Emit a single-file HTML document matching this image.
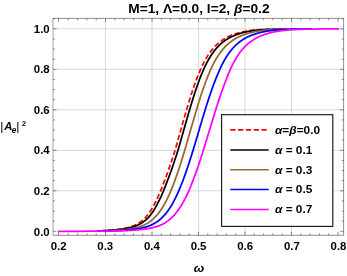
<!DOCTYPE html>
<html><head><meta charset="utf-8"><title>plot</title>
<style>html,body{margin:0;padding:0;background:#fff;}body{width:347px;height:276px;position:relative;overflow:hidden;font-family:"Liberation Sans",sans-serif;}</style>
</head><body>
<svg width="347" height="276" viewBox="0 0 347 276" style="position:absolute;left:0;top:0;will-change:transform">
<rect x="0" y="0" width="347" height="276" fill="#fff"/>
<path d="M105.50 18.4V235.3M152.00 18.4V235.3M198.50 18.4V235.3M245.00 18.4V235.3M291.50 18.4V235.3M53.05 190.81H343.6M53.05 150.32H343.6M53.05 109.83H343.6M53.05 69.34H343.6M53.05 28.85H343.6" stroke="#cccccc" stroke-width="0.75" fill="none"/>
<path d="M104.50 230.51 L105.00 230.48 L105.50 230.46 L106.00 230.43 L106.50 230.40 L107.00 230.37 L107.50 230.34 L108.00 230.31 L108.50 230.27 L109.00 230.24 L109.50 230.20 L110.00 230.17 L110.50 230.13 L111.00 230.09 L111.50 230.05 L112.00 230.01 L112.50 229.96 L113.00 229.92 L113.50 229.87 L114.00 229.82 L114.50 229.77 L115.00 229.72 L115.50 229.67 L116.00 229.61 L116.50 229.56 L117.00 229.50 L117.50 229.44 L118.00 229.38 L118.50 229.31 L119.00 229.24 L119.50 229.17 L120.00 229.10 L120.50 229.03 L121.00 228.95 L121.50 228.87 L122.00 228.79 L122.50 228.70 L123.00 228.61 L123.50 228.52 L124.00 228.43 L124.50 228.33 L125.00 228.23 L125.50 228.12 L126.00 228.01 L126.50 227.90 L127.00 227.78 L127.50 227.66 L128.00 227.53 L128.50 227.40 L129.00 227.26 L129.50 227.12 L130.00 226.97 L130.50 226.81 L131.00 226.65 L131.50 226.48 L132.00 226.30 L132.50 226.12 L133.00 225.93 L133.50 225.73 L134.00 225.52 L134.50 225.31 L135.00 225.08 L135.50 224.85 L136.00 224.60 L136.50 224.35 L137.00 224.09 L137.50 223.81 L138.00 223.52 L138.50 223.22 L139.00 222.91 L139.50 222.58 L140.00 222.24 L140.50 221.89 L141.00 221.53 L141.50 221.15 L142.00 220.76 L142.50 220.35 L143.00 219.93 L143.50 219.50 L144.00 219.05 L144.50 218.58 L145.00 218.10 L145.50 217.56 L146.00 217.00 L146.50 216.42 L147.00 215.81 L147.50 215.19 L148.00 214.54 L148.50 213.87 L149.00 213.18 L149.50 212.46 L150.00 211.72 L150.50 210.95 L151.00 210.15 L151.50 209.33 L152.00 208.48 L152.50 207.61 L153.00 206.71 L153.50 205.77 L154.00 204.81 L154.50 203.87 L155.00 202.94 L155.50 201.98 L156.00 201.00 L156.50 199.99 L157.00 198.96 L157.50 197.91 L158.00 196.83 L158.50 195.73 L159.00 194.61 L159.50 193.46 L160.00 192.28 L160.50 191.09 L161.00 189.87 L161.50 188.62 L162.00 187.36 L162.50 186.07 L163.00 184.75 L163.50 183.42 L164.00 182.06 L164.50 180.75 L165.00 179.46 L165.50 178.14 L166.00 176.82 L166.50 175.47 L167.00 174.11 L167.50 172.73 L168.00 171.34 L168.50 169.93 L169.00 168.51 L169.50 167.08 L170.00 165.63 L170.50 164.16 L171.00 162.68 L171.50 161.19 L172.00 159.68 L172.50 158.15 L173.00 156.61 L173.50 155.06 L174.00 153.50 L174.50 151.92 L175.00 150.34 L175.50 148.62 L176.00 146.89 L176.50 145.14 L177.00 143.39 L177.50 141.64 L178.00 139.87 L178.50 138.10 L179.00 136.33 L179.50 134.56 L180.00 132.78 L180.50 131.00 L181.00 129.22 L181.50 127.44 L182.00 125.67 L182.50 123.90 L183.00 122.13 L183.50 120.37 L184.00 118.62 L184.50 116.87 L185.00 115.13 L185.50 113.41 L186.00 111.69 L186.50 109.98 L187.00 108.29 L187.50 106.60 L188.00 104.93 L188.50 103.28 L189.00 101.64 L189.50 100.02 L190.00 98.41 L190.50 96.82 L191.00 95.25 L191.50 93.70 L192.00 92.16 L192.50 90.65 L193.00 89.16 L193.50 87.69 L194.00 86.24 L194.50 84.81 L195.00 83.40 L195.50 82.02 L196.00 80.66 L196.50 79.32 L197.00 78.01 L197.50 76.71 L198.00 75.45 L198.50 74.20 L199.00 72.98 L199.50 71.79 L200.00 70.62 L200.50 69.47 L201.00 68.35 L201.50 67.26 L202.00 66.19 L202.50 65.15 L203.00 64.14 L203.50 63.15 L204.00 62.19 L204.50 61.25 L205.00 60.33 L205.50 59.44 L206.00 58.57 L206.50 57.73 L207.00 56.90 L207.50 56.10 L208.00 55.32 L208.50 54.57 L209.00 53.83 L209.50 53.11 L210.00 52.42 L210.50 51.74 L211.00 51.08 L211.50 50.44 L212.00 49.81 L212.50 49.21 L213.00 48.61 L213.50 48.04 L214.00 47.48 L214.50 46.94 L215.00 46.41 L215.50 45.89 L216.00 45.40 L216.50 44.91 L217.00 44.44 L217.50 43.98 L218.00 43.54 L218.50 43.10 L219.00 42.68 L219.50 42.28 L220.00 41.88 L220.50 41.50 L221.00 41.12 L221.50 40.76 L222.00 40.40 L222.50 40.06 L223.00 39.73 L223.50 39.40 L224.00 39.09 L224.50 38.78 L225.00 38.48 L225.50 38.19 L226.00 37.91 L226.50 37.64 L227.00 37.37 L227.50 37.12 L228.00 36.87 L228.50 36.62 L229.00 36.39 L229.50 36.16 L230.00 35.94 L230.50 35.72 L231.00 35.51 L231.50 35.31 L232.00 35.11 L232.50 34.92 L233.00 34.73 L233.50 34.55 L234.00 34.37 L234.50 34.20 L235.00 34.03 L235.50 33.86 L236.00 33.70 L236.50 33.54 L237.00 33.39 L237.50 33.24 L238.00 33.09 L238.50 32.95 L239.00 32.81 L239.50 32.68 L240.00 32.55 L240.50 32.42 L241.00 32.30 L241.50 32.18 L242.00 32.06 L242.50 31.95 L243.00 31.84 L243.50 31.73 L244.00 31.63 L244.50 31.53 L245.00 31.43 L245.50 31.34 L246.00 31.25 L246.50 31.16 L247.00 31.07 L247.50 30.99 L248.00 30.91 L248.50 30.84 L249.00 30.76 L249.50 30.69 L250.00 30.62 L250.50 30.56 L251.00 30.49 L251.50 30.43 L252.00 30.37 L252.50 30.31 L253.00 30.26 L253.50 30.21 L254.00 30.15 L254.50 30.10 L255.00 30.06 L255.50 30.01 L256.00 29.97 L256.50 29.92 L257.00 29.88 L257.50 29.84 L258.00 29.80 L258.50 29.77 L259.00 29.73 L259.50 29.70 L260.00 29.66 L260.50 29.63 L261.00 29.60 L261.50 29.57 L262.00 29.54 L262.50 29.52 L263.00 29.49 L263.50 29.47 L264.00 29.44 L264.50 29.42 L265.00 29.40 L265.50 29.37 L266.00 29.35 L266.50 29.33 L267.00 29.32 L267.50 29.30 L268.00 29.28 L268.50 29.26 L269.00 29.25 L269.50 29.23" stroke="#ff0000" stroke-width="1.75" fill="none" stroke-linejoin="round" stroke-dasharray="5.2 2.6" stroke-dashoffset="3.9"/>
<path d="M97.00 230.89 L97.50 230.88 L98.00 230.86 L98.50 230.85 L99.00 230.83 L99.50 230.82 L100.00 230.80 L100.50 230.79 L101.00 230.77 L101.50 230.75 L102.00 230.73 L102.50 230.71 L103.00 230.69 L103.50 230.68 L104.00 230.65 L104.50 230.63 L105.00 230.61 L105.50 230.59 L106.00 230.57 L106.50 230.54 L107.00 230.52 L107.50 230.49 L108.00 230.46 L108.50 230.44 L109.00 230.41 L109.50 230.38 L110.00 230.35 L110.50 230.32 L111.00 230.28 L111.50 230.25 L112.00 230.21 L112.50 230.18 L113.00 230.14 L113.50 230.10 L114.00 230.06 L114.50 230.02 L115.00 229.98 L115.50 229.93 L116.00 229.89 L116.50 229.84 L117.00 229.79 L117.50 229.74 L118.00 229.69 L118.50 229.63 L119.00 229.58 L119.50 229.52 L120.00 229.46 L120.50 229.40 L121.00 229.34 L121.50 229.27 L122.00 229.20 L122.50 229.13 L123.00 229.06 L123.50 228.98 L124.00 228.90 L124.50 228.82 L125.00 228.74 L125.50 228.65 L126.00 228.56 L126.50 228.47 L127.00 228.37 L127.50 228.27 L128.00 228.17 L128.50 228.06 L129.00 227.95 L129.50 227.84 L130.00 227.72 L130.50 227.59 L131.00 227.46 L131.50 227.33 L132.00 227.19 L132.50 227.04 L133.00 226.89 L133.50 226.73 L134.00 226.57 L134.50 226.39 L135.00 226.22 L135.50 226.03 L136.00 225.84 L136.50 225.63 L137.00 225.42 L137.50 225.21 L138.00 224.98 L138.50 224.74 L139.00 224.49 L139.50 224.24 L140.00 223.97 L140.50 223.69 L141.00 223.40 L141.50 223.09 L142.00 222.78 L142.50 222.45 L143.00 222.11 L143.50 221.75 L144.00 221.38 L144.50 221.00 L145.00 220.61 L145.50 220.20 L146.00 219.78 L146.50 219.34 L147.00 218.88 L147.50 218.42 L148.00 217.92 L148.50 217.37 L149.00 216.81 L149.50 216.22 L150.00 215.61 L150.50 214.98 L151.00 214.33 L151.50 213.66 L152.00 212.96 L152.50 212.24 L153.00 211.49 L153.50 210.72 L154.00 209.92 L154.50 209.10 L155.00 208.25 L155.50 207.37 L156.00 206.46 L156.50 205.53 L157.00 204.57 L157.50 203.64 L158.00 202.71 L158.50 201.75 L159.00 200.77 L159.50 199.76 L160.00 198.73 L160.50 197.68 L161.00 196.60 L161.50 195.50 L162.00 194.38 L162.50 193.23 L163.00 192.06 L163.50 190.86 L164.00 189.64 L164.50 188.40 L165.00 187.14 L165.50 185.85 L166.00 184.54 L166.50 183.21 L167.00 181.86 L167.50 180.56 L168.00 179.27 L168.50 177.96 L169.00 176.64 L169.50 175.30 L170.00 173.94 L170.50 172.57 L171.00 171.18 L171.50 169.78 L172.00 168.36 L172.50 166.93 L173.00 165.49 L173.50 164.03 L174.00 162.55 L174.50 161.06 L175.00 159.56 L175.50 158.04 L176.00 156.51 L176.50 154.96 L177.00 153.41 L177.50 151.84 L178.00 150.26 L178.50 148.54 L179.00 146.82 L179.50 145.08 L180.00 143.34 L180.50 141.59 L181.00 139.84 L181.50 138.08 L182.00 136.31 L182.50 134.55 L183.00 132.78 L183.50 131.01 L184.00 129.24 L184.50 127.47 L185.00 125.71 L185.50 123.94 L186.00 122.19 L186.50 120.43 L187.00 118.69 L187.50 116.95 L188.00 115.22 L188.50 113.50 L189.00 111.79 L189.50 110.09 L190.00 108.40 L190.50 106.73 L191.00 105.07 L191.50 103.42 L192.00 101.78 L192.50 100.17 L193.00 98.57 L193.50 96.98 L194.00 95.42 L194.50 93.87 L195.00 92.35 L195.50 90.84 L196.00 89.35 L196.50 87.88 L197.00 86.44 L197.50 85.01 L198.00 83.61 L198.50 82.23 L199.00 80.87 L199.50 79.54 L200.00 78.23 L200.50 76.94 L201.00 75.67 L201.50 74.43 L202.00 73.21 L202.50 72.02 L203.00 70.85 L203.50 69.70 L204.00 68.58 L204.50 67.49 L205.00 66.42 L205.50 65.38 L206.00 64.37 L206.50 63.38 L207.00 62.41 L207.50 61.47 L208.00 60.56 L208.50 59.66 L209.00 58.79 L209.50 57.95 L210.00 57.12 L210.50 56.32 L211.00 55.54 L211.50 54.78 L212.00 54.04 L212.50 53.32 L213.00 52.62 L213.50 51.94 L214.00 51.28 L214.50 50.64 L215.00 50.01 L215.50 49.40 L216.00 48.81 L216.50 48.23 L217.00 47.67 L217.50 47.12 L218.00 46.59 L218.50 46.07 L219.00 45.57 L219.50 45.09 L220.00 44.61 L220.50 44.15 L221.00 43.70 L221.50 43.27 L222.00 42.85 L222.50 42.44 L223.00 42.04 L223.50 41.65 L224.00 41.27 L224.50 40.91 L225.00 40.55 L225.50 40.21 L226.00 39.87 L226.50 39.54 L227.00 39.22 L227.50 38.91 L228.00 38.61 L228.50 38.32 L229.00 38.04 L229.50 37.76 L230.00 37.50 L230.50 37.24 L231.00 36.98 L231.50 36.74 L232.00 36.50 L232.50 36.27 L233.00 36.05 L233.50 35.83 L234.00 35.62 L234.50 35.41 L235.00 35.21 L235.50 35.02 L236.00 34.83 L236.50 34.65 L237.00 34.47 L237.50 34.29 L238.00 34.12 L238.50 33.95 L239.00 33.79 L239.50 33.63 L240.00 33.47 L240.50 33.32 L241.00 33.17 L241.50 33.03 L242.00 32.89 L242.50 32.76 L243.00 32.62 L243.50 32.50 L244.00 32.37 L244.50 32.25 L245.00 32.13 L245.50 32.02 L246.00 31.91 L246.50 31.80 L247.00 31.69 L247.50 31.59 L248.00 31.49 L248.50 31.40 L249.00 31.31 L249.50 31.22 L250.00 31.13 L250.50 31.05 L251.00 30.97 L251.50 30.89 L252.00 30.81 L252.50 30.74 L253.00 30.67 L253.50 30.60 L254.00 30.54 L254.50 30.48 L255.00 30.41 L255.50 30.36 L256.00 30.30 L256.50 30.24 L257.00 30.19 L257.50 30.14 L258.00 30.09 L258.50 30.05 L259.00 30.00 L259.50 29.96 L260.00 29.91 L260.50 29.87 L261.00 29.83 L261.50 29.80 L262.00 29.76 L262.50 29.72 L263.00 29.69 L263.50 29.66 L264.00 29.63 L264.50 29.60 L265.00 29.57 L265.50 29.54 L266.00 29.51 L266.50 29.49 L267.00 29.46 L267.50 29.44 L268.00 29.41 L268.50 29.39 L269.00 29.37 L269.50 29.35 L270.00 29.33 L270.50 29.31 L271.00 29.30 L271.50 29.28 L272.00 29.26 L272.50 29.25 L273.00 29.23 L273.50 29.21 L274.00 29.20 L274.50 29.19 L275.00 29.17 L275.50 29.16 L276.00 29.15 L276.50 29.14 L277.00 29.13 L277.50 29.12 L278.00 29.11 L278.50 29.10 L279.00 29.09 L279.50 29.08 L280.00 29.07 L280.50 29.06 L281.00 29.05 L281.50 29.04 L282.00 29.04 L282.50 29.03 L283.00 29.02 L283.50 29.01 L284.00 29.01 L284.50 29.00 L285.00 29.00 L285.50 28.99 L286.00 28.99" stroke="#000000" stroke-width="1.75" fill="none" stroke-linejoin="round"/>
<path d="M102.00 230.90 L102.50 230.89 L103.00 230.88 L103.50 230.86 L104.00 230.85 L104.50 230.83 L105.00 230.82 L105.50 230.80 L106.00 230.79 L106.50 230.77 L107.00 230.75 L107.50 230.74 L108.00 230.72 L108.50 230.70 L109.00 230.68 L109.50 230.66 L110.00 230.64 L110.50 230.62 L111.00 230.60 L111.50 230.57 L112.00 230.55 L112.50 230.52 L113.00 230.50 L113.50 230.47 L114.00 230.45 L114.50 230.42 L115.00 230.39 L115.50 230.36 L116.00 230.33 L116.50 230.30 L117.00 230.26 L117.50 230.23 L118.00 230.20 L118.50 230.16 L119.00 230.12 L119.50 230.08 L120.00 230.04 L120.50 230.00 L121.00 229.96 L121.50 229.91 L122.00 229.87 L122.50 229.82 L123.00 229.77 L123.50 229.72 L124.00 229.67 L124.50 229.62 L125.00 229.56 L125.50 229.50 L126.00 229.44 L126.50 229.38 L127.00 229.32 L127.50 229.25 L128.00 229.19 L128.50 229.12 L129.00 229.04 L129.50 228.97 L130.00 228.89 L130.50 228.81 L131.00 228.73 L131.50 228.64 L132.00 228.55 L132.50 228.46 L133.00 228.37 L133.50 228.27 L134.00 228.17 L134.50 228.06 L135.00 227.95 L135.50 227.84 L136.00 227.72 L136.50 227.60 L137.00 227.47 L137.50 227.34 L138.00 227.20 L138.50 227.05 L139.00 226.91 L139.50 226.75 L140.00 226.59 L140.50 226.42 L141.00 226.25 L141.50 226.06 L142.00 225.87 L142.50 225.68 L143.00 225.47 L143.50 225.26 L144.00 225.04 L144.50 224.81 L145.00 224.57 L145.50 224.31 L146.00 224.05 L146.50 223.78 L147.00 223.50 L147.50 223.20 L148.00 222.90 L148.50 222.58 L149.00 222.24 L149.50 221.90 L150.00 221.54 L150.50 221.17 L151.00 220.79 L151.50 220.39 L152.00 219.98 L152.50 219.56 L153.00 219.12 L153.50 218.67 L154.00 218.20 L154.50 217.71 L155.00 217.21 L155.50 216.70 L156.00 216.16 L156.50 215.61 L157.00 215.04 L157.50 214.45 L158.00 213.85 L158.50 213.22 L159.00 212.58 L159.50 211.91 L160.00 211.22 L160.50 210.52 L161.00 209.79 L161.50 209.04 L162.00 208.27 L162.50 207.47 L163.00 206.66 L163.50 205.81 L164.00 204.95 L164.50 204.06 L165.00 203.15 L165.50 202.22 L166.00 201.26 L166.50 200.28 L167.00 199.28 L167.50 198.25 L168.00 197.21 L168.50 196.14 L169.00 195.04 L169.50 193.92 L170.00 192.78 L170.50 191.62 L171.00 190.43 L171.50 189.23 L172.00 188.00 L172.50 186.74 L173.00 185.47 L173.50 184.17 L174.00 182.85 L174.50 181.52 L175.00 180.16 L175.50 178.78 L176.00 177.38 L176.50 175.96 L177.00 174.53 L177.50 173.07 L178.00 171.60 L178.50 170.12 L179.00 168.61 L179.50 167.10 L180.00 165.56 L180.50 164.01 L181.00 162.44 L181.50 160.85 L182.00 159.25 L182.50 157.63 L183.00 155.99 L183.50 154.35 L184.00 152.69 L184.50 151.01 L185.00 149.33 L185.50 147.63 L186.00 145.93 L186.50 144.22 L187.00 142.50 L187.50 140.77 L188.00 139.04 L188.50 137.31 L189.00 135.57 L189.50 133.82 L190.00 132.08 L190.50 130.34 L191.00 128.59 L191.50 126.85 L192.00 125.11 L192.50 123.38 L193.00 121.65 L193.50 119.92 L194.00 118.21 L194.50 116.50 L195.00 114.79 L195.50 113.10 L196.00 111.42 L196.50 109.75 L197.00 108.09 L197.50 106.44 L198.00 104.80 L198.50 103.18 L199.00 101.57 L199.50 99.98 L200.00 98.41 L200.50 96.85 L201.00 95.31 L201.50 93.79 L202.00 92.28 L202.50 90.80 L203.00 89.33 L203.50 87.89 L204.00 86.46 L204.50 85.06 L205.00 83.68 L205.50 82.32 L206.00 80.98 L206.50 79.66 L207.00 78.36 L207.50 77.09 L208.00 75.84 L208.50 74.62 L209.00 73.41 L209.50 72.23 L210.00 71.07 L210.50 69.94 L211.00 68.83 L211.50 67.75 L212.00 66.69 L212.50 65.66 L213.00 64.65 L213.50 63.67 L214.00 62.71 L214.50 61.78 L215.00 60.87 L215.50 59.98 L216.00 59.11 L216.50 58.27 L217.00 57.45 L217.50 56.65 L218.00 55.87 L218.50 55.11 L219.00 54.38 L219.50 53.66 L220.00 52.96 L220.50 52.28 L221.00 51.62 L221.50 50.98 L222.00 50.35 L222.50 49.74 L223.00 49.15 L223.50 48.57 L224.00 48.01 L224.50 47.46 L225.00 46.93 L225.50 46.41 L226.00 45.90 L226.50 45.41 L227.00 44.94 L227.50 44.48 L228.00 44.03 L228.50 43.59 L229.00 43.16 L229.50 42.75 L230.00 42.35 L230.50 41.96 L231.00 41.58 L231.50 41.21 L232.00 40.85 L232.50 40.50 L233.00 40.16 L233.50 39.83 L234.00 39.51 L234.50 39.20 L235.00 38.89 L235.50 38.60 L236.00 38.31 L236.50 38.03 L237.00 37.76 L237.50 37.50 L238.00 37.24 L238.50 36.99 L239.00 36.75 L239.50 36.52 L240.00 36.29 L240.50 36.07 L241.00 35.85 L241.50 35.64 L242.00 35.44 L242.50 35.24 L243.00 35.05 L243.50 34.86 L244.00 34.68 L244.50 34.50 L245.00 34.33 L245.50 34.16 L246.00 33.99 L246.50 33.83 L247.00 33.67 L247.50 33.52 L248.00 33.37 L248.50 33.22 L249.00 33.08 L249.50 32.94 L250.00 32.81 L250.50 32.67 L251.00 32.55 L251.50 32.42 L252.00 32.30 L252.50 32.18 L253.00 32.07 L253.50 31.96 L254.00 31.85 L254.50 31.75 L255.00 31.64 L255.50 31.55 L256.00 31.45 L256.50 31.36 L257.00 31.27 L257.50 31.18 L258.00 31.10 L258.50 31.02 L259.00 30.94 L259.50 30.86 L260.00 30.79 L260.50 30.72 L261.00 30.65 L261.50 30.58 L262.00 30.52 L262.50 30.46 L263.00 30.40 L263.50 30.34 L264.00 30.29 L264.50 30.23 L265.00 30.18 L265.50 30.13 L266.00 30.08 L266.50 30.04 L267.00 29.99 L267.50 29.95 L268.00 29.91 L268.50 29.87 L269.00 29.83 L269.50 29.79 L270.00 29.76 L270.50 29.72 L271.00 29.69 L271.50 29.66 L272.00 29.63 L272.50 29.60 L273.00 29.57 L273.50 29.54 L274.00 29.51 L274.50 29.49 L275.00 29.46 L275.50 29.44 L276.00 29.42 L276.50 29.40 L277.00 29.38 L277.50 29.36 L278.00 29.34 L278.50 29.32 L279.00 29.30 L279.50 29.28 L280.00 29.27 L280.50 29.25 L281.00 29.23 L281.50 29.22 L282.00 29.21 L282.50 29.19 L283.00 29.18 L283.50 29.17 L284.00 29.15 L284.50 29.14 L285.00 29.13 L285.50 29.12 L286.00 29.11 L286.50 29.10 L287.00 29.09 L287.50 29.08 L288.00 29.07 L288.50 29.06 L289.00 29.06 L289.50 29.05 L290.00 29.04 L290.50 29.03 L291.00 29.03 L291.50 29.02 L292.00 29.01 L292.50 29.01 L293.00 29.00 L293.50 28.99 L294.00 28.99 L294.50 28.98 L295.00 28.98 L295.50 28.97 L296.00 28.97 L296.50 28.96 L297.00 28.96 L297.50 28.96 L298.00 28.95 L298.50 28.95 L299.00 28.94" stroke="#996633" stroke-width="1.75" fill="none" stroke-linejoin="round"/>
<path d="M103.50 231.00 L104.00 230.99 L104.50 230.98 L105.00 230.97 L105.50 230.96 L106.00 230.95 L106.50 230.94 L107.00 230.92 L107.50 230.91 L108.00 230.90 L108.50 230.89 L109.00 230.87 L109.50 230.86 L110.00 230.85 L110.50 230.83 L111.00 230.82 L111.50 230.80 L112.00 230.79 L112.50 230.77 L113.00 230.76 L113.50 230.74 L114.00 230.72 L114.50 230.70 L115.00 230.68 L115.50 230.66 L116.00 230.64 L116.50 230.62 L117.00 230.60 L117.50 230.58 L118.00 230.56 L118.50 230.54 L119.00 230.51 L119.50 230.49 L120.00 230.46 L120.50 230.43 L121.00 230.41 L121.50 230.38 L122.00 230.35 L122.50 230.32 L123.00 230.29 L123.50 230.26 L124.00 230.22 L124.50 230.19 L125.00 230.15 L125.50 230.12 L126.00 230.08 L126.50 230.04 L127.00 230.00 L127.50 229.96 L128.00 229.91 L128.50 229.87 L129.00 229.82 L129.50 229.78 L130.00 229.73 L130.50 229.68 L131.00 229.63 L131.50 229.57 L132.00 229.52 L132.50 229.46 L133.00 229.40 L133.50 229.34 L134.00 229.27 L134.50 229.21 L135.00 229.14 L135.50 229.07 L136.00 229.00 L136.50 228.93 L137.00 228.85 L137.50 228.77 L138.00 228.69 L138.50 228.60 L139.00 228.52 L139.50 228.43 L140.00 228.33 L140.50 228.24 L141.00 228.14 L141.50 228.03 L142.00 227.93 L142.50 227.82 L143.00 227.70 L143.50 227.58 L144.00 227.46 L144.50 227.33 L145.00 227.19 L145.50 227.05 L146.00 226.91 L146.50 226.76 L147.00 226.60 L147.50 226.44 L148.00 226.27 L148.50 226.09 L149.00 225.91 L149.50 225.72 L150.00 225.52 L150.50 225.32 L151.00 225.10 L151.50 224.88 L152.00 224.65 L152.50 224.41 L153.00 224.16 L153.50 223.90 L154.00 223.63 L154.50 223.35 L155.00 223.06 L155.50 222.76 L156.00 222.44 L156.50 222.11 L157.00 221.77 L157.50 221.42 L158.00 221.06 L158.50 220.68 L159.00 220.29 L159.50 219.89 L160.00 219.48 L160.50 219.05 L161.00 218.61 L161.50 218.15 L162.00 217.68 L162.50 217.19 L163.00 216.69 L163.50 216.17 L164.00 215.63 L164.50 215.08 L165.00 214.51 L165.50 213.92 L166.00 213.32 L166.50 212.70 L167.00 212.05 L167.50 211.39 L168.00 210.71 L168.50 210.01 L169.00 209.29 L169.50 208.54 L170.00 207.78 L170.50 206.99 L171.00 206.19 L171.50 205.36 L172.00 204.51 L172.50 203.63 L173.00 202.74 L173.50 201.82 L174.00 200.88 L174.50 199.92 L175.00 198.94 L175.50 197.94 L176.00 196.91 L176.50 195.87 L177.00 194.80 L177.50 193.71 L178.00 192.60 L178.50 191.47 L179.00 190.31 L179.50 189.14 L180.00 187.94 L180.50 186.72 L181.00 185.48 L181.50 184.22 L182.00 182.95 L182.50 181.65 L183.00 180.33 L183.50 178.99 L184.00 177.64 L184.50 176.26 L185.00 174.87 L185.50 173.47 L186.00 172.04 L186.50 170.60 L187.00 169.15 L187.50 167.68 L188.00 166.19 L188.50 164.69 L189.00 163.18 L189.50 161.64 L190.00 160.09 L190.50 158.53 L191.00 156.95 L191.50 155.35 L192.00 153.75 L192.50 152.13 L193.00 150.50 L193.50 148.87 L194.00 147.22 L194.50 145.56 L195.00 143.90 L195.50 142.22 L196.00 140.55 L196.50 138.86 L197.00 137.18 L197.50 135.49 L198.00 133.79 L198.50 132.10 L199.00 130.41 L199.50 128.71 L200.00 127.02 L200.50 125.33 L201.00 123.65 L201.50 121.96 L202.00 120.29 L202.50 118.62 L203.00 116.95 L203.50 115.30 L204.00 113.65 L204.50 112.01 L205.00 110.39 L205.50 108.77 L206.00 107.16 L206.50 105.57 L207.00 103.99 L207.50 102.42 L208.00 100.86 L208.50 99.32 L209.00 97.80 L209.50 96.29 L210.00 94.80 L210.50 93.33 L211.00 91.87 L211.50 90.44 L212.00 89.02 L212.50 87.62 L213.00 86.24 L213.50 84.88 L214.00 83.54 L214.50 82.21 L215.00 80.92 L215.50 79.64 L216.00 78.38 L216.50 77.14 L217.00 75.93 L217.50 74.73 L218.00 73.56 L218.50 72.41 L219.00 71.28 L219.50 70.16 L220.00 69.04 L220.50 67.95 L221.00 66.89 L221.50 65.85 L222.00 64.83 L222.50 63.84 L223.00 62.88 L223.50 61.94 L224.00 61.02 L224.50 60.12 L225.00 59.25 L225.50 58.40 L226.00 57.58 L226.50 56.77 L227.00 55.99 L227.50 55.22 L228.00 54.48 L228.50 53.76 L229.00 53.06 L229.50 52.37 L230.00 51.71 L230.50 51.06 L231.00 50.43 L231.50 49.81 L232.00 49.22 L232.50 48.63 L233.00 48.07 L233.50 47.52 L234.00 46.98 L234.50 46.46 L235.00 45.96 L235.50 45.47 L236.00 44.99 L236.50 44.53 L237.00 44.08 L237.50 43.65 L238.00 43.22 L238.50 42.81 L239.00 42.41 L239.50 42.02 L240.00 41.64 L240.50 41.27 L241.00 40.91 L241.50 40.56 L242.00 40.22 L242.50 39.89 L243.00 39.57 L243.50 39.26 L244.00 38.96 L244.50 38.66 L245.00 38.37 L245.50 38.10 L246.00 37.82 L246.50 37.56 L247.00 37.30 L247.50 37.05 L248.00 36.81 L248.50 36.58 L249.00 36.35 L249.50 36.13 L250.00 35.91 L250.50 35.70 L251.00 35.50 L251.50 35.30 L252.00 35.11 L252.50 34.92 L253.00 34.74 L253.50 34.56 L254.00 34.38 L254.50 34.21 L255.00 34.05 L255.50 33.89 L256.00 33.73 L256.50 33.57 L257.00 33.42 L257.50 33.28 L258.00 33.13 L258.50 32.99 L259.00 32.86 L259.50 32.73 L260.00 32.60 L260.50 32.47 L261.00 32.36 L261.50 32.24 L262.00 32.13 L262.50 32.02 L263.00 31.92 L263.50 31.81 L264.00 31.71 L264.50 31.62 L265.00 31.52 L265.50 31.43 L266.00 31.34 L266.50 31.26 L267.00 31.17 L267.50 31.09 L268.00 31.01 L268.50 30.94 L269.00 30.87 L269.50 30.80 L270.00 30.73 L270.50 30.66 L271.00 30.60 L271.50 30.54 L272.00 30.48 L272.50 30.42 L273.00 30.36 L273.50 30.31 L274.00 30.26 L274.50 30.21 L275.00 30.16 L275.50 30.11 L276.00 30.07 L276.50 30.02 L277.00 29.98 L277.50 29.94 L278.00 29.90 L278.50 29.86 L279.00 29.82 L279.50 29.79 L280.00 29.75 L280.50 29.72 L281.00 29.69 L281.50 29.66 L282.00 29.63 L282.50 29.60 L283.00 29.57 L283.50 29.54 L284.00 29.52 L284.50 29.49 L285.00 29.47 L285.50 29.45 L286.00 29.43 L286.50 29.40 L287.00 29.38 L287.50 29.36 L288.00 29.35 L288.50 29.33 L289.00 29.31 L289.50 29.29 L290.00 29.28 L290.50 29.26 L291.00 29.25 L291.50 29.23 L292.00 29.22 L292.50 29.20 L293.00 29.19 L293.50 29.18 L294.00 29.16 L294.50 29.15 L295.00 29.14 L295.50 29.13 L296.00 29.12 L296.50 29.11 L297.00 29.10 L297.50 29.09 L298.00 29.08 L298.50 29.07 L299.00 29.07 L299.50 29.06 L300.00 29.05 L300.50 29.04 L301.00 29.03 L301.50 29.03 L302.00 29.02 L302.50 29.01 L303.00 29.01 L303.50 29.00 L304.00 29.00 L304.50 28.99 L305.00 28.99 L305.50 28.98 L306.00 28.98 L306.50 28.97 L307.00 28.97 L307.50 28.96 L308.00 28.96 L308.50 28.95 L309.00 28.95 L309.50 28.95 L310.00 28.94 L310.50 28.94 L311.00 28.94 L311.50 28.93 L312.00 28.93" stroke="#0000ff" stroke-width="1.75" fill="none" stroke-linejoin="round"/>
<path d="M58.00 231.29 L58.50 231.29 L59.00 231.29 L59.50 231.29 L60.00 231.29 L60.50 231.29 L61.00 231.29 L61.50 231.29 L62.00 231.29 L62.50 231.29 L63.00 231.28 L63.50 231.28 L64.00 231.28 L64.50 231.28 L65.00 231.28 L65.50 231.28 L66.00 231.28 L66.50 231.28 L67.00 231.28 L67.50 231.28 L68.00 231.28 L68.50 231.28 L69.00 231.28 L69.50 231.28 L70.00 231.28 L70.50 231.28 L71.00 231.28 L71.50 231.27 L72.00 231.27 L72.50 231.27 L73.00 231.27 L73.50 231.27 L74.00 231.27 L74.50 231.27 L75.00 231.27 L75.50 231.27 L76.00 231.27 L76.50 231.27 L77.00 231.26 L77.50 231.26 L78.00 231.26 L78.50 231.26 L79.00 231.26 L79.50 231.26 L80.00 231.26 L80.50 231.26 L81.00 231.25 L81.50 231.25 L82.00 231.25 L82.50 231.25 L83.00 231.25 L83.50 231.25 L84.00 231.25 L84.50 231.24 L85.00 231.24 L85.50 231.24 L86.00 231.24 L86.50 231.24 L87.00 231.23 L87.50 231.23 L88.00 231.23 L88.50 231.23 L89.00 231.23 L89.50 231.22 L90.00 231.22 L90.50 231.22 L91.00 231.22 L91.50 231.21 L92.00 231.21 L92.50 231.21 L93.00 231.21 L93.50 231.20 L94.00 231.20 L94.50 231.20 L95.00 231.19 L95.50 231.19 L96.00 231.19 L96.50 231.18 L97.00 231.18 L97.50 231.18 L98.00 231.17 L98.50 231.17 L99.00 231.16 L99.50 231.16 L100.00 231.15 L100.50 231.15 L101.00 231.15 L101.50 231.14 L102.00 231.14 L102.50 231.13 L103.00 231.13 L103.50 231.12 L104.00 231.11 L104.50 231.11 L105.00 231.10 L105.50 231.10 L106.00 231.09 L106.50 231.08 L107.00 231.08 L107.50 231.07 L108.00 231.06 L108.50 231.06 L109.00 231.05 L109.50 231.04 L110.00 231.03 L110.50 231.03 L111.00 231.02 L111.50 231.01 L112.00 231.00 L112.50 230.99 L113.00 230.98 L113.50 230.97 L114.00 230.96 L114.50 230.95 L115.00 230.94 L115.50 230.93 L116.00 230.92 L116.50 230.90 L117.00 230.89 L117.50 230.88 L118.00 230.87 L118.50 230.85 L119.00 230.84 L119.50 230.83 L120.00 230.81 L120.50 230.80 L121.00 230.78 L121.50 230.76 L122.00 230.75 L122.50 230.73 L123.00 230.71 L123.50 230.70 L124.00 230.68 L124.50 230.66 L125.00 230.64 L125.50 230.62 L126.00 230.60 L126.50 230.58 L127.00 230.55 L127.50 230.53 L128.00 230.51 L128.50 230.48 L129.00 230.46 L129.50 230.43 L130.00 230.40 L130.50 230.37 L131.00 230.35 L131.50 230.32 L132.00 230.29 L132.50 230.25 L133.00 230.22 L133.50 230.19 L134.00 230.15 L134.50 230.12 L135.00 230.08 L135.50 230.04 L136.00 230.00 L136.50 229.96 L137.00 229.92 L137.50 229.88 L138.00 229.83 L138.50 229.79 L139.00 229.74 L139.50 229.69 L140.00 229.64 L140.50 229.59 L141.00 229.53 L141.50 229.48 L142.00 229.42 L142.50 229.36 L143.00 229.30 L143.50 229.23 L144.00 229.17 L144.50 229.10 L145.00 229.03 L145.50 228.96 L146.00 228.89 L146.50 228.81 L147.00 228.73 L147.50 228.65 L148.00 228.56 L148.50 228.48 L149.00 228.39 L149.50 228.29 L150.00 228.20 L150.50 228.10 L151.00 228.00 L151.50 227.89 L152.00 227.78 L152.50 227.67 L153.00 227.55 L153.50 227.42 L154.00 227.29 L154.50 227.16 L155.00 227.02 L155.50 226.88 L156.00 226.73 L156.50 226.58 L157.00 226.42 L157.50 226.25 L158.00 226.08 L158.50 225.90 L159.00 225.71 L159.50 225.51 L160.00 225.31 L160.50 225.10 L161.00 224.89 L161.50 224.66 L162.00 224.42 L162.50 224.18 L163.00 223.93 L163.50 223.66 L164.00 223.39 L164.50 223.10 L165.00 222.81 L165.50 222.50 L166.00 222.18 L166.50 221.85 L167.00 221.51 L167.50 221.15 L168.00 220.79 L168.50 220.41 L169.00 220.02 L169.50 219.62 L170.00 219.20 L170.50 218.77 L171.00 218.33 L171.50 217.87 L172.00 217.40 L172.50 216.91 L173.00 216.41 L173.50 215.89 L174.00 215.36 L174.50 214.81 L175.00 214.24 L175.50 213.66 L176.00 213.06 L176.50 212.44 L177.00 211.80 L177.50 211.14 L178.00 210.47 L178.50 209.77 L179.00 209.06 L179.50 208.32 L180.00 207.57 L180.50 206.79 L181.00 205.99 L181.50 205.18 L182.00 204.33 L182.50 203.47 L183.00 202.59 L183.50 201.69 L184.00 200.77 L184.50 199.82 L185.00 198.86 L185.50 197.87 L186.00 196.86 L186.50 195.84 L187.00 194.79 L187.50 193.72 L188.00 192.63 L188.50 191.52 L189.00 190.39 L189.50 189.23 L190.00 188.06 L190.50 186.87 L191.00 185.65 L191.50 184.42 L192.00 183.17 L192.50 181.90 L193.00 180.61 L193.50 179.30 L194.00 177.98 L194.50 176.64 L195.00 175.28 L195.50 173.90 L196.00 172.51 L196.50 171.10 L197.00 169.68 L197.50 168.24 L198.00 166.79 L198.50 165.32 L199.00 163.84 L199.50 162.34 L200.00 160.83 L200.50 159.30 L201.00 157.76 L201.50 156.20 L202.00 154.63 L202.50 153.05 L203.00 151.46 L203.50 149.86 L204.00 148.25 L204.50 146.63 L205.00 145.00 L205.50 143.36 L206.00 141.72 L206.50 140.07 L207.00 138.42 L207.50 136.76 L208.00 135.10 L208.50 133.44 L209.00 131.78 L209.50 130.12 L210.00 128.46 L210.50 126.80 L211.00 125.14 L211.50 123.49 L212.00 121.84 L212.50 120.19 L213.00 118.55 L213.50 116.92 L214.00 115.30 L214.50 113.68 L215.00 112.07 L215.50 110.47 L216.00 108.89 L216.50 107.31 L217.00 105.74 L217.50 104.19 L218.00 102.65 L218.50 101.12 L219.00 99.61 L219.50 98.11 L220.00 96.63 L220.50 95.16 L221.00 93.71 L221.50 92.28 L222.00 90.86 L222.50 89.46 L223.00 88.08 L223.50 86.72 L224.00 85.38 L224.50 84.06 L225.00 82.71 L225.50 81.36 L226.00 80.02 L226.50 78.71 L227.00 77.41 L227.50 76.15 L228.00 74.90 L228.50 73.68 L229.00 72.48 L229.50 71.31 L230.00 70.16 L230.50 69.03 L231.00 67.94 L231.50 66.87 L232.00 65.82 L232.50 64.80 L233.00 63.80 L233.50 62.83 L234.00 61.88 L234.50 60.96 L235.00 60.06 L235.50 59.19 L236.00 58.33 L236.50 57.50 L237.00 56.70 L237.50 55.91 L238.00 55.14 L238.50 54.40 L239.00 53.67 L239.50 52.97 L240.00 52.29 L240.50 51.64 L241.00 51.01 L241.50 50.40 L242.00 49.81 L242.50 49.22 L243.00 48.66 L243.50 48.11 L244.00 47.57 L244.50 47.05 L245.00 46.54 L245.50 46.05 L246.00 45.57 L246.50 45.10 L247.00 44.64 L247.50 44.20 L248.00 43.77 L248.50 43.35 L249.00 42.94 L249.50 42.54 L250.00 42.16 L250.50 41.78 L251.00 41.42 L251.50 41.06 L252.00 40.72 L252.50 40.38 L253.00 40.05 L253.50 39.73 L254.00 39.42 L254.50 39.12 L255.00 38.82 L255.50 38.54 L256.00 38.26 L256.50 37.99 L257.00 37.73 L257.50 37.47 L258.00 37.22 L258.50 36.98 L259.00 36.74 L259.50 36.52 L260.00 36.29 L260.50 36.08 L261.00 35.87 L261.50 35.66 L262.00 35.46 L262.50 35.27 L263.00 35.08 L263.50 34.90 L264.00 34.72 L264.50 34.55 L265.00 34.38 L265.50 34.21 L266.00 34.05 L266.50 33.89 L267.00 33.73 L267.50 33.58 L268.00 33.43 L268.50 33.29 L269.00 33.15 L269.50 33.01 L270.00 32.88 L270.50 32.75 L271.00 32.62 L271.50 32.50 L272.00 32.38 L272.50 32.27 L273.00 32.16 L273.50 32.06 L274.00 31.95 L274.50 31.85 L275.00 31.75 L275.50 31.66 L276.00 31.57 L276.50 31.48 L277.00 31.39 L277.50 31.30 L278.00 31.22 L278.50 31.14 L279.00 31.06 L279.50 30.99 L280.00 30.92 L280.50 30.85 L281.00 30.78 L281.50 30.71 L282.00 30.65 L282.50 30.59 L283.00 30.53 L283.50 30.47 L284.00 30.41 L284.50 30.36 L285.00 30.31 L285.50 30.26 L286.00 30.21 L286.50 30.16 L287.00 30.11 L287.50 30.07 L288.00 30.03 L288.50 29.99 L289.00 29.95 L289.50 29.91 L290.00 29.87 L290.50 29.83 L291.00 29.80 L291.50 29.76 L292.00 29.73 L292.50 29.70 L293.00 29.67 L293.50 29.64 L294.00 29.61 L294.50 29.58 L295.00 29.56 L295.50 29.53 L296.00 29.51 L296.50 29.48 L297.00 29.46 L297.50 29.44 L298.00 29.42 L298.50 29.40 L299.00 29.38 L299.50 29.36 L300.00 29.34 L300.50 29.32 L301.00 29.31 L301.50 29.29 L302.00 29.27 L302.50 29.26 L303.00 29.24 L303.50 29.23 L304.00 29.22 L304.50 29.20 L305.00 29.19 L305.50 29.18 L306.00 29.17 L306.50 29.15 L307.00 29.14 L307.50 29.13 L308.00 29.12 L308.50 29.11 L309.00 29.10 L309.50 29.09 L310.00 29.08 L310.50 29.08 L311.00 29.07 L311.50 29.06 L312.00 29.05 L312.50 29.04 L313.00 29.04 L313.50 29.03 L314.00 29.02 L314.50 29.02 L315.00 29.01 L315.50 29.01 L316.00 29.00 L316.50 28.99 L317.00 28.99 L317.50 28.98 L318.00 28.98 L318.50 28.97 L319.00 28.97 L319.50 28.97 L320.00 28.96 L320.50 28.96 L321.00 28.95 L321.50 28.95 L322.00 28.95 L322.50 28.94 L323.00 28.94 L323.50 28.94 L324.00 28.93 L324.50 28.93 L325.00 28.93 L325.50 28.92 L326.00 28.92 L326.50 28.92 L327.00 28.92 L327.50 28.91 L328.00 28.91 L328.50 28.91 L329.00 28.91 L329.50 28.90 L330.00 28.90 L330.50 28.90 L331.00 28.90 L331.50 28.90 L332.00 28.90 L332.50 28.89 L333.00 28.89 L333.50 28.89 L334.00 28.89 L334.50 28.89 L335.00 28.89 L335.50 28.88 L336.00 28.88 L336.50 28.88 L337.00 28.88 L337.50 28.88 L338.00 28.88 L338.50 28.88 L339.00 28.88" stroke="#ff00ff" stroke-width="1.75" fill="none" stroke-linejoin="round"/>
<path d="M53.05 18.4H343.6V235.3H53.05" fill="none" stroke="#333" stroke-width="0.55"/>
<path d="M53.0 18.13V235.57000000000002" fill="none" stroke="#333" stroke-width="0.45"/>
<path d="M58.40 235.3v-3.5M58.40 18.4v3.5M68.30 235.3v-2.0M68.30 18.4v2.0M77.60 235.3v-2.0M77.60 18.4v2.0M86.90 235.3v-2.0M86.90 18.4v2.0M96.20 235.3v-2.0M96.20 18.4v2.0M105.50 235.3v-3.5M105.50 18.4v3.5M114.80 235.3v-2.0M114.80 18.4v2.0M124.10 235.3v-2.0M124.10 18.4v2.0M133.40 235.3v-2.0M133.40 18.4v2.0M142.70 235.3v-2.0M142.70 18.4v2.0M152.00 235.3v-3.5M152.00 18.4v3.5M161.30 235.3v-2.0M161.30 18.4v2.0M170.60 235.3v-2.0M170.60 18.4v2.0M179.90 235.3v-2.0M179.90 18.4v2.0M189.20 235.3v-2.0M189.20 18.4v2.0M198.50 235.3v-3.5M198.50 18.4v3.5M207.80 235.3v-2.0M207.80 18.4v2.0M217.10 235.3v-2.0M217.10 18.4v2.0M226.40 235.3v-2.0M226.40 18.4v2.0M235.70 235.3v-2.0M235.70 18.4v2.0M245.00 235.3v-3.5M245.00 18.4v3.5M254.30 235.3v-2.0M254.30 18.4v2.0M263.60 235.3v-2.0M263.60 18.4v2.0M272.90 235.3v-2.0M272.90 18.4v2.0M282.20 235.3v-2.0M282.20 18.4v2.0M291.50 235.3v-3.5M291.50 18.4v3.5M300.80 235.3v-2.0M300.80 18.4v2.0M310.10 235.3v-2.0M310.10 18.4v2.0M319.40 235.3v-2.0M319.40 18.4v2.0M328.70 235.3v-2.0M328.70 18.4v2.0M338.00 235.3v-3.5M338.00 18.4v3.5M53.05 231.30h3.5M343.6 231.30h-3.5M53.05 221.18h2.0M343.6 221.18h-2.0M53.05 211.06h2.0M343.6 211.06h-2.0M53.05 200.93h2.0M343.6 200.93h-2.0M53.05 190.81h3.5M343.6 190.81h-3.5M53.05 180.69h2.0M343.6 180.69h-2.0M53.05 170.56h2.0M343.6 170.56h-2.0M53.05 160.44h2.0M343.6 160.44h-2.0M53.05 150.32h3.5M343.6 150.32h-3.5M53.05 140.20h2.0M343.6 140.20h-2.0M53.05 130.08h2.0M343.6 130.08h-2.0M53.05 119.95h2.0M343.6 119.95h-2.0M53.05 109.83h3.5M343.6 109.83h-3.5M53.05 99.71h2.0M343.6 99.71h-2.0M53.05 89.59h2.0M343.6 89.59h-2.0M53.05 79.46h2.0M343.6 79.46h-2.0M53.05 69.34h3.5M343.6 69.34h-3.5M53.05 59.22h2.0M343.6 59.22h-2.0M53.05 49.10h2.0M343.6 49.10h-2.0M53.05 38.97h2.0M343.6 38.97h-2.0M53.05 28.85h3.5M343.6 28.85h-3.5M53.05 18.73h2.0M343.6 18.73h-2.0" stroke="#333" stroke-width="0.55" fill="none"/>
<rect x="221.6" y="114.7" width="111.20" height="111.70" fill="#fff" stroke="#1a1a1a" stroke-width="1.15"/>
<path d="M230.3 129.9H267.2" stroke="#ff0000" stroke-width="1.6" stroke-dasharray="5.2 2.6" fill="none"/>
<path d="M230.3 150.0H268.7" stroke="#000000" stroke-width="1.5" fill="none"/>
<path d="M230.3 169.8H268.7" stroke="#996633" stroke-width="1.5" fill="none"/>
<path d="M230.3 189.6H268.7" stroke="#0000ff" stroke-width="1.5" fill="none"/>
<path d="M230.3 209.4H268.7" stroke="#ff00ff" stroke-width="1.5" fill="none"/>
<g style="font-family:'Liberation Sans',sans-serif;font-weight:bold;fill:#000" font-size="10.5">
<text transform="translate(58.60 249.8) scale(1.085 1)" text-anchor="middle">0.2</text>
<text transform="translate(105.25 249.8) scale(1.085 1)" text-anchor="middle">0.3</text>
<text transform="translate(151.90 249.8) scale(1.085 1)" text-anchor="middle">0.4</text>
<text transform="translate(198.55 249.8) scale(1.085 1)" text-anchor="middle">0.5</text>
<text transform="translate(245.20 249.8) scale(1.085 1)" text-anchor="middle">0.6</text>
<text transform="translate(291.85 249.8) scale(1.085 1)" text-anchor="middle">0.7</text>
<text transform="translate(338.50 249.8) scale(1.085 1)" text-anchor="middle">0.8</text>
<text transform="translate(49.7 235.60) scale(1.085 1)" text-anchor="end">0.0</text>
<text transform="translate(49.7 195.00) scale(1.085 1)" text-anchor="end">0.2</text>
<text transform="translate(49.7 154.40) scale(1.085 1)" text-anchor="end">0.4</text>
<text transform="translate(49.7 113.80) scale(1.085 1)" text-anchor="end">0.6</text>
<text transform="translate(49.7 73.20) scale(1.085 1)" text-anchor="end">0.8</text>
<text transform="translate(49.7 32.60) scale(1.085 1)" text-anchor="end">1.0</text>
<text transform="translate(275.0 133.60) scale(1.13 1)"><tspan font-style="italic">α</tspan>=<tspan font-style="italic">β</tspan>=0.0</text>
<text transform="translate(275.0 153.70) scale(1.13 1)"><tspan font-style="italic">α</tspan> = 0.1</text>
<text transform="translate(275.0 173.50) scale(1.13 1)"><tspan font-style="italic">α</tspan> = 0.3</text>
<text transform="translate(275.0 193.30) scale(1.13 1)"><tspan font-style="italic">α</tspan> = 0.5</text>
<text transform="translate(275.0 213.10) scale(1.13 1)"><tspan font-style="italic">α</tspan> = 0.7</text>
<text transform="translate(199.1 271.6) scale(1.2 1.03)" text-anchor="middle" font-style="italic">ω</text>
<rect x="1.25" y="122.0" width="1.05" height="10.9" fill="#111"/><rect x="17.3" y="122.0" width="1.05" height="10.9" fill="#111"/>
<text transform="translate(4.2 130.4) scale(1.1 1)" font-size="10.2" font-style="italic">A</text>
<text transform="translate(11.5 132.9) scale(1.0 1)" font-size="8.8" font-style="italic">e</text>
<text transform="translate(22.0 125.9) scale(1.0 1)" font-size="7.3">2</text>
</g>
<text transform="translate(198.9 12.7) scale(1.033 1)" text-anchor="middle" font-size="13.3" style="font-family:'Liberation Sans',sans-serif;font-weight:bold;fill:#000">M=1, Λ=0.0, l=2, <tspan font-style="italic">β</tspan>=0.2</text>
</svg>
</body></html>
